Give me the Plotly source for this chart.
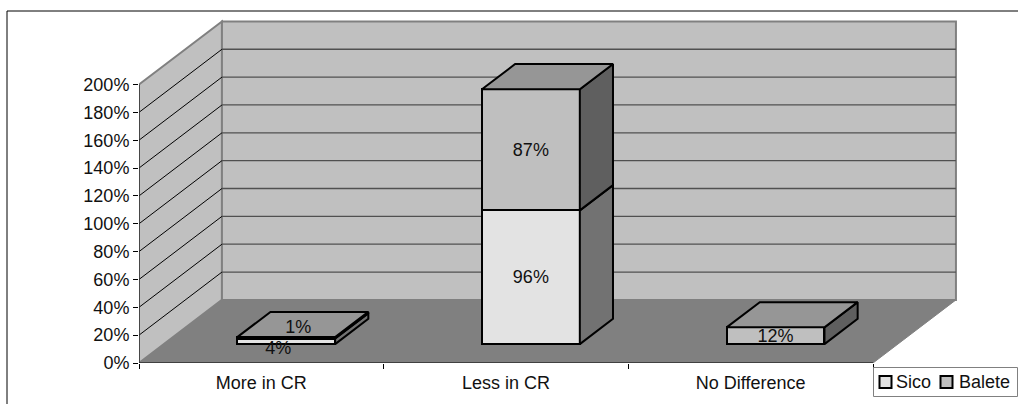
import plotly.graph_objects as go

# ---- data ----
categories = ["More in CR", "Less in CR", "No Difference"]
sico = [4, 96, 0]
balete = [1, 87, 12]
y_ticks = [0, 20, 40, 60, 80, 100, 120, 140, 160, 180, 200]
y_tick_labels = ["0%", "20%", "40%", "60%", "80%", "100%", "120%", "140%", "160%", "180%", "200%"]
series_names = ["Sico", "Balete"]

# ---- pseudo-3D projection (axis units) ----
DX, DY = 0.339, 45.3          # full depth of the chart box
BAR_NEAR, BAR_FAR = 0.3, 0.7  # fraction of depth occupied by the bars
BAR_W = 0.4
N = len(categories)
Y_MAX = y_ticks[-1]
FONT = dict(family="Liberation Sans, Arial, sans-serif", size=18, color="#111111")

C_WALL, C_FLOOR, C_EDGE = "#c0c0c0", "#808080", "#808080"
C_SICO, C_BALETE = "#e3e3e3", "#bfbfbf"
C_SICO_SIDE, C_BALETE_SIDE = "#727272", "#5f5f5f"
C_BALETE_TOP = "#969696"


def poly(points):
    return "M" + " L".join(f"{x},{y}" for x, y in points) + " Z"


shapes = [
    dict(type="path", layer="below", line=dict(color=C_FLOOR, width=1), fillcolor=C_FLOOR,
         path=poly([(0, 0), (N, 0), (N + DX, DY), (DX, DY)])),
    dict(type="path", layer="below", line=dict(color=C_EDGE, width=2), fillcolor=C_WALL,
         path=poly([(0, 0), (DX, DY), (DX, Y_MAX + DY), (0, Y_MAX)])),
    dict(type="path", layer="below", line=dict(color=C_EDGE, width=2), fillcolor=C_WALL,
         path=poly([(DX, DY), (N + DX, DY), (N + DX, Y_MAX + DY), (DX, Y_MAX + DY)])),
]
for v in y_ticks[1:-1]:
    shapes.append(dict(type="line", layer="below", x0=0, y0=v, x1=DX, y1=v + DY,
                       line=dict(color="#000000", width=1)))
    shapes.append(dict(type="line", layer="below", x0=DX, y0=v + DY, x1=N + DX, y1=v + DY,
                       line=dict(color="#505050", width=1.3)))

# page geometry
W, H = 1018, 404
ML, MR, MT, MB = 139, 47, 15, 41
PW, PH = W - ML - MR, H - MT - MB
X_SCALE = 734 / N           # pixels per category
Y_SCALE = 278.5 / Y_MAX     # pixels per percent
px = lambda x: (x - ML) / PW
py = lambda y: (H - MB - y) / PH

# page frame: top and left rules; legend box
for a, b, c, d in [(7, 11, W, 11), (7, 11, 7, H)]:
    shapes.append(dict(type="line", xref="paper", yref="paper", x0=px(a), y0=py(b), x1=px(c), y1=py(d),
                       line=dict(color="#000000", width=1)))
shapes.append(dict(type="rect", xref="paper", yref="paper", x0=px(873.5), y0=py(367.5), x1=px(1017.5), y1=py(396.5),
                   line=dict(color="#808080", width=1), fillcolor="#ffffff"))

fig = go.Figure()

front_x = [i + 0.5 + BAR_NEAR * DX for i in range(N)]
base_off = BAR_NEAR * DY
sico_base = [base_off] * N
balete_base = [base_off + s for s in sico]

for name, vals, base, col in [(series_names[0], sico, sico_base, C_SICO),
                              (series_names[1], balete, balete_base, C_BALETE)]:
    fig.add_bar(x=front_x, y=vals, base=base, width=BAR_W, name=name, showlegend=False,
                marker=dict(color=col, line=dict(color="#000000", width=2)))

# side and top faces of each bar
bdx = (BAR_FAR - BAR_NEAR) * DX
bdy = (BAR_FAR - BAR_NEAR) * DY


def face(pts, color):
    xs, ys = zip(*pts)
    fig.add_scatter(x=list(xs) + [xs[0]], y=list(ys) + [ys[0]], mode="lines", fill="toself", fillcolor=color,
                    line=dict(color="#000000", width=2), showlegend=False, hoverinfo="skip",
                    cliponaxis=False)


for i in range(N):
    r = front_x[i] + BAR_W / 2
    l = front_x[i] - BAR_W / 2
    y0 = sico_base[i]
    y1 = balete_base[i]
    y2 = y1 + balete[i]
    if sico[i] > 0:
        face([(r, y0), (r + bdx, y0 + bdy), (r + bdx, y1 + bdy), (r, y1)], C_SICO_SIDE)
    face([(r, y1), (r + bdx, y1 + bdy), (r + bdx, y2 + bdy), (r, y2)], C_BALETE_SIDE)
    face([(l, y2), (r, y2), (r + bdx, y2 + bdy), (l + bdx, y2 + bdy)], C_BALETE_TOP)

# axis lines (limited to the front of the box)
fig.add_scatter(x=[0, 0], y=[0, Y_MAX], mode="lines", line=dict(color="#333333", width=1.5),
                showlegend=False, hoverinfo="skip", cliponaxis=False)
fig.add_scatter(x=[0, N], y=[0, 0], mode="lines", line=dict(color="#000000", width=1.2),
                showlegend=False, hoverinfo="skip", cliponaxis=False)

# data labels
LABEL_LIFT = -1.2
nudge_x = {(0, 0): -0.033, (0, 1): 0.049}
nudge_y = {(0, 0): -4.7, (0, 1): 8.0}
lx, ly, lt = [], [], []
for s, (vals, base) in enumerate([(sico, sico_base), (balete, balete_base)]):
    for i, v in enumerate(vals):
        if v > 0:
            lx.append(front_x[i] + nudge_x.get((i, s), 0))
            ly.append(base[i] + v / 2 + nudge_y.get((i, s), 0) + LABEL_LIFT)
            lt.append(f"{v}%")
fig.add_scatter(x=lx, y=ly, text=lt, mode="text", textfont=FONT, textposition="middle center",
                showlegend=False, hoverinfo="skip", cliponaxis=False)

# legend, drawn in the chart's bottom-right corner
LEG_Y = 382
annotations = []
for name, col, sw_x, tx_x in [(series_names[0], C_SICO, 885.5, 896), (series_names[1], C_BALETE, 946.5, 958.5)]:
    shapes.append(dict(type="rect", xref="paper", yref="paper",
                       x0=px(sw_x - 6), x1=px(sw_x + 6), y0=py(LEG_Y - 6), y1=py(LEG_Y + 6),
                       fillcolor=col, line=dict(color="#000000", width=2)))
    annotations.append(dict(xref="paper", yref="paper", x=px(tx_x), y=py(LEG_Y - 0.5), text=name, font=FONT,
                            showarrow=False, xanchor="left", yanchor="middle", borderpad=0, borderwidth=0))

fig.update_layout(
    width=W, height=H, margin=dict(l=ML, r=MR, t=MT, b=MB, autoexpand=False, pad=0),
    paper_bgcolor="white", plot_bgcolor="white", font=FONT,
    barmode="overlay", shapes=shapes, annotations=annotations, bargap=0, showlegend=False,
)
fig.update_xaxes(range=[0, PW / X_SCALE], showgrid=False, zeroline=False, showline=False,
                 tickmode="array", tickvals=[i + 0.5 for i in range(N)], ticktext=categories,
                 ticks="", tickfont=FONT, ticklabelstandoff=7,
                 minor=dict(tickmode="array", tickvals=list(range(N + 1)), ticks="outside",
                            ticklen=5, tickwidth=1, tickcolor="#000000", showgrid=False))
fig.update_yaxes(range=[0, PH / Y_SCALE], showgrid=False, zeroline=False, showline=False,
                 tickmode="array", tickvals=y_ticks, ticktext=y_tick_labels,
                 ticks="outside", ticklen=5, tickwidth=1, tickcolor="#000000", tickfont=FONT)

fig.write_html("out.html", config=dict(displayModeBar=False),
               post_script="document.body.style.margin='0';document.body.style.overflow='hidden';")
